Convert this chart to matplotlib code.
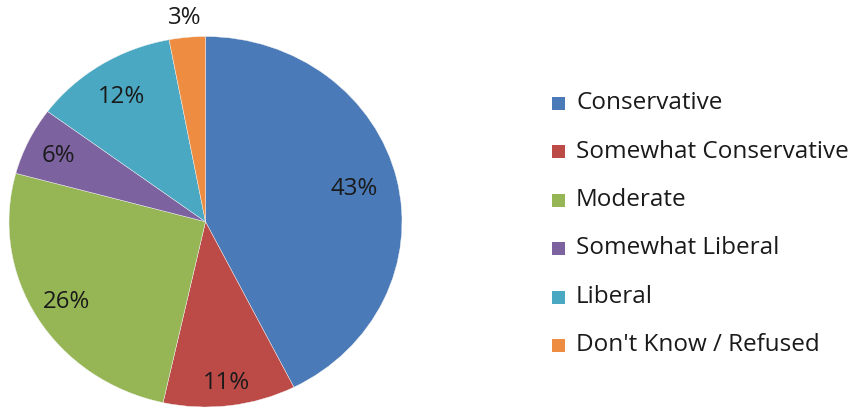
import numpy as np
import matplotlib
matplotlib.use("Agg")
import matplotlib.pyplot as plt
from matplotlib.patches import Rectangle

categories = ["Conservative", "Somewhat Conservative", "Moderate",
              "Somewhat Liberal", "Liberal", "Don't Know / Refused"]
values = [43, 11, 26, 6, 12, 3]
pct_labels = ["43%", "11%", "26%", "6%", "12%", "3%"]

colors = ["#4A7AB7", "#BC4B48", "#96B656", "#7D62A0", "#4AA8C2", "#EE8D41"]
label_radius = [0.78, 0.87, 0.825, 0.83, 0.80, 1.11]

W, H = 851, 410
fig = plt.figure(figsize=(W / 100, H / 100), dpi=100)
fig.patch.set_facecolor("white")

# pie axes (stretched horizontally, giving an elliptical pie)
left, right, top, bottom = 9, 402, 37.5, 408
ax = fig.add_axes([left / W, (H - bottom) / H, (right - left) / W, (bottom - top) / H])
wedges, _ = ax.pie(values, colors=colors, startangle=90, counterclock=False,
                   radius=1.0, wedgeprops=dict(linewidth=0.3, edgecolor="#f4f4f4"))
ax.set_aspect("auto")
ax.set_xlim(-1, 1)
ax.set_ylim(-1, 1)
ax.axis("off")

font = "Open Sans"
for w, lab, r in zip(wedges, pct_labels, label_radius):
    mid = np.deg2rad((w.theta1 + w.theta2) / 2)
    ax.text(r * np.cos(mid), r * np.sin(mid), lab, ha="center", va="center",
            fontsize=17.3, family=font, color="#1a1a1a", clip_on=False)

# legend
x_box, x_text = 552, 576
y0, dy = 103, 48.5
box = 13
for i, (cat, col) in enumerate(zip(categories, colors)):
    yc = y0 + i * dy
    fig.patches.append(Rectangle(((x_box) / W, (H - yc - box / 2 - 1) / H), box / W, box / H,
                                 transform=fig.transFigure, facecolor=col, edgecolor="none"))
    fig.text(x_text / W, (H - yc) / H, cat, ha="left", va="center",
             fontsize=17.5, family=font, color="#1a1a1a")

fig.savefig("out.png", dpi=100, facecolor="white")
